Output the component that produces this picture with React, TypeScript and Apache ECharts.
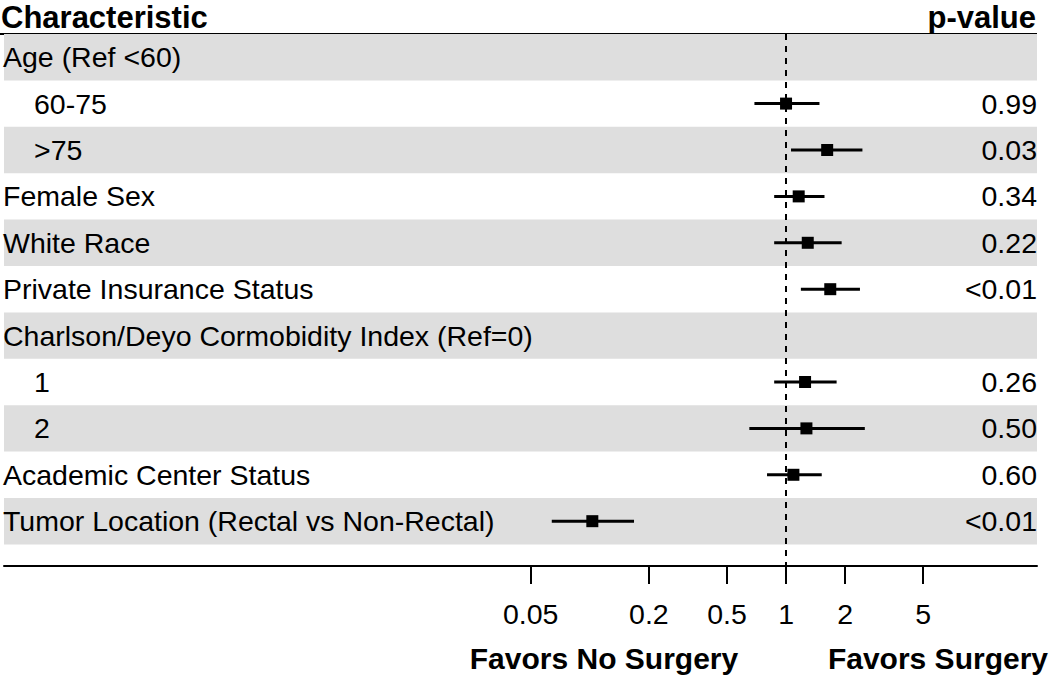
import React, { useEffect, useRef } from "react";
import * as echarts from "echarts";

const rowLabels = [
  "Age (Ref <60)",
  "60-75",
  ">75",
  "Female Sex",
  "White Race",
  "Private Insurance Status",
  "Charlson/Deyo Cormobidity Index (Ref=0)",
  "1",
  "2",
  "Academic Center Status",
  "Tumor Location (Rectal vs Non-Rectal)",
];
const indented = [false, true, true, false, false, false, false, true, true, false, false];
const estimates = [null, 1.0, 1.62, 1.16, 1.29, 1.68, null, 1.25, 1.27, 1.09, 0.103];
const lowerCI = [null, 0.69, 1.06, 0.87, 0.87, 1.19, null, 0.87, 0.65, 0.8, 0.064];
const upperCI = [null, 1.48, 2.45, 1.57, 1.92, 2.38, null, 1.81, 2.52, 1.52, 0.168];
const pValues = ["", "0.99", "0.03", "0.34", "0.22", "<0.01", "", "0.26", "0.50", "0.60", "<0.01"];
const tickValues = [0.05, 0.2, 0.5, 1, 2, 5];
const shadedRows = [1, 3, 5, 7, 9, 11];

const FONT = '"Liberation Sans", Arial, Helvetica, sans-serif';

export default function App() {
  const ref = useRef<HTMLDivElement>(null);
  useEffect(() => {
    if (!ref.current) return;
    const chart = echarts.init(ref.current, undefined, { renderer: "svg" });
    const rowNums = rowLabels.map((_, i) => i + 1);
    const data: any[] = [];
    estimates.forEach((e, i) => {
      if (e != null) data.push([e, lowerCI[i], upperCI[i], i + 1]);
    });
    const yMin = 0.5;
    const yMax = 11.966;
    chart.setOption({
      animation: false,
      grid: { left: 0, right: 13, top: 34, bottom: 111, containLabel: false },
      xAxis: {
        type: "log",
        logBase: 10,
        min: 0.0001035,
        max: 19,
        z: 3,
        splitLine: { show: false },
        axisLine: { show: true, lineStyle: { color: "#000", width: 2 } },
        axisTick: {
          show: true,
          customValues: tickValues,
          length: 18,
          lineStyle: { color: "#000", width: 2 },
        },
        axisLabel: {
          customValues: tickValues,
          fontSize: 28.5,
          fontFamily: FONT,
          color: "#000",
          margin: 33,
          formatter: (v: number) => String(v),
        },
      },
      yAxis: [
        {
          type: "value",
          min: yMin,
          max: yMax,
          inverse: true,
          position: "left",
          z: 3,
          splitLine: { show: false },
          axisLine: { show: false },
          axisTick: { show: false },
          axisLabel: {
            inside: true,
            margin: -1,
            customValues: rowNums,
            formatter: (v: number) => {
              const i = Math.round(v) - 1;
              const t = rowLabels[i] ?? "";
              return indented[i] ? `{ind|${t}}` : `{base|${t}}`;
            },
            rich: {
              base: { fontSize: 28.5, fontFamily: FONT, color: "#000" },
              ind: { fontSize: 28.5, fontFamily: FONT, color: "#000", padding: [0, 0, 0, 31] },
            },
          },
        },
        {
          type: "value",
          min: yMin,
          max: yMax,
          inverse: true,
          position: "right",
          z: 3,
          splitLine: { show: false },
          axisLine: { show: false },
          axisTick: { show: false },
          axisLabel: {
            inside: true,
            margin: 0,
            customValues: rowNums,
            fontSize: 28.5,
            fontFamily: FONT,
            color: "#000",
            formatter: (v: number) => pValues[Math.round(v) - 1] ?? "",
          },
        },
      ],
      series: [
        {
          type: "custom",
          xAxisIndex: 0,
          yAxisIndex: 0,
          z: 2,
          encode: { x: [0, 1, 2], y: 3 },
          data,
          renderItem: (params: any, api: any) => {
            const y = api.value(3);
            const p = api.coord([api.value(0), y]);
            const l = api.coord([api.value(1), y]);
            const h = api.coord([api.value(2), y]);
            return {
              type: "group",
              children: [
                {
                  type: "line",
                  shape: { x1: l[0], y1: l[1], x2: h[0], y2: h[1] },
                  style: { stroke: "#000", lineWidth: 3 },
                },
                {
                  type: "rect",
                  shape: { x: p[0] - 6, y: p[1] - 6, width: 12, height: 12 },
                  style: { fill: "#000" },
                },
              ],
            };
          },
          markArea: {
            silent: true,
            itemStyle: { color: "#dedede" },
            data: shadedRows.map((r) => [{ yAxis: r - 0.5 }, { yAxis: r + 0.5 }]),
          },
          markLine: {
            silent: true,
            symbol: "none",
            label: { show: false },
            lineStyle: { color: "#000", width: 2, type: [6, 6] },
            data: [{ xAxis: 1 }],
          },
        },
      ],
      graphic: [
        {
          type: "line",
          shape: { x1: 0, y1: 34, x2: 1037, y2: 34 },
          style: { stroke: "#000", lineWidth: 2 },
        },
        {
          type: "text",
          x: 1,
          y: 2,
          style: {
            text: "Characteristic",
            font: `bold 31px ${FONT}`,
            fill: "#000",
            textAlign: "left",
            textVerticalAlign: "top",
          },
        },
        {
          type: "text",
          x: 1036,
          y: 2,
          style: {
            text: "p-value",
            font: `bold 31px ${FONT}`,
            fill: "#000",
            textAlign: "right",
            textVerticalAlign: "top",
          },
        },
        {
          type: "text",
          x: 604,
          y: 658,
          style: {
            text: "Favors No Surgery",
            font: `bold 30px ${FONT}`,
            fill: "#000",
            textAlign: "center",
            textVerticalAlign: "middle",
          },
        },
        {
          type: "text",
          x: 1048,
          y: 658,
          style: {
            text: "Favors Surgery",
            font: `bold 30px ${FONT}`,
            fill: "#000",
            textAlign: "right",
            textVerticalAlign: "middle",
          },
        },
      ],
    });
    return () => chart.dispose();
  }, []);
  return (
    <div
      ref={ref}
      style={{ position: "fixed", left: 0, top: 0, width: 1050, height: 677, background: "#fff" }}
    />
  );
}
